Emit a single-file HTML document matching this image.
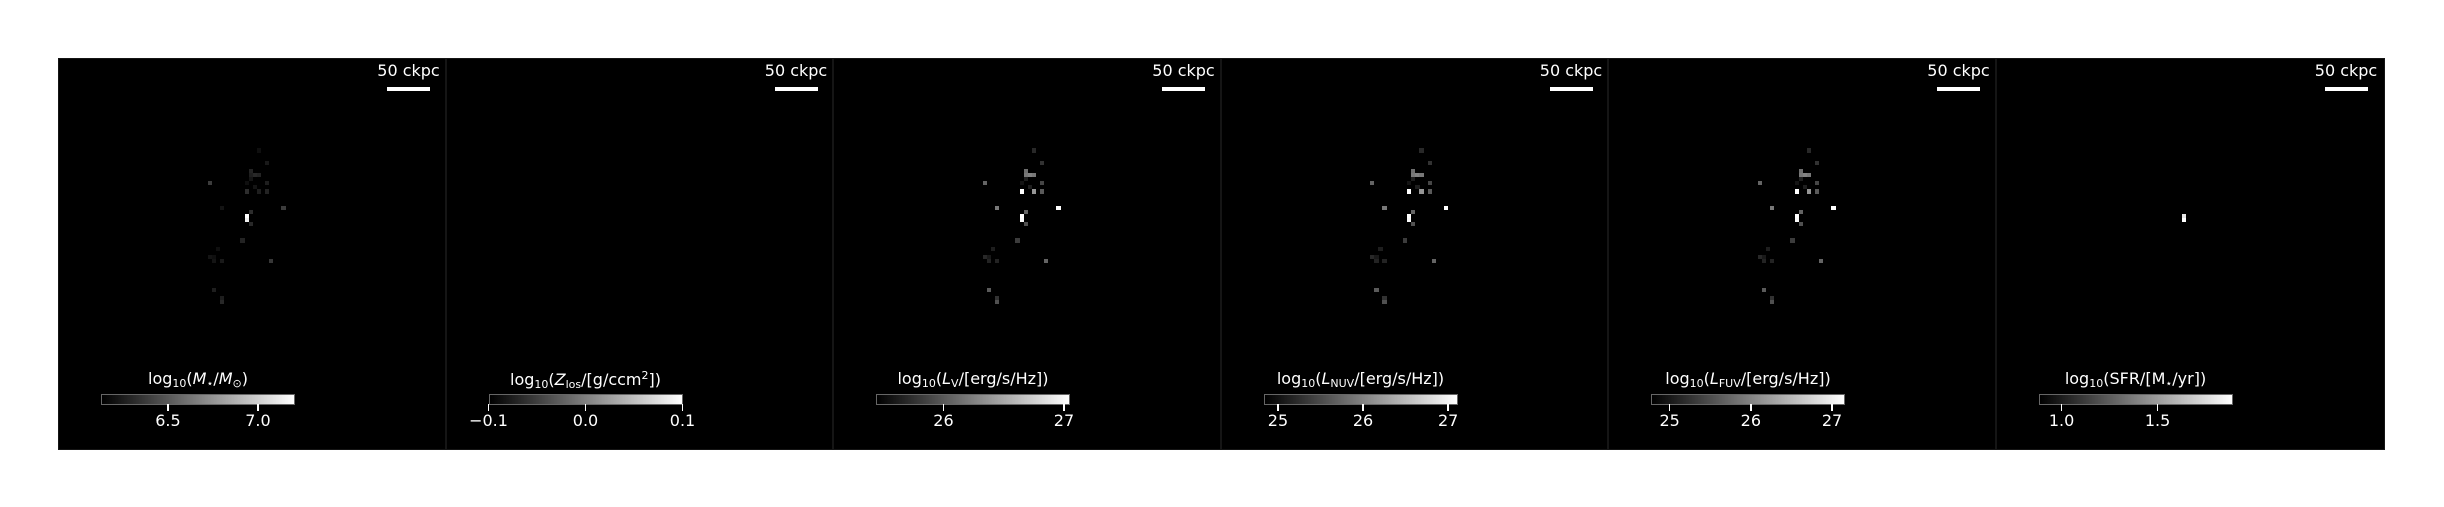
<!DOCTYPE html>
<html><head><meta charset="utf-8">
<style>
html,body{margin:0;padding:0;background:#fff;}
#root{position:relative;width:2444px;height:507px;overflow:hidden;background:#fff;font-family:"DejaVu Sans","Liberation Sans",sans-serif;color:#fff;}
.panel{position:absolute;top:58px;height:392px;background:#000;box-sizing:border-box;border:1px solid #151515;}
.txt{position:absolute;white-space:nowrap;transform:translate(-50%,-50%);font-size:16px;line-height:1;}
.cbar{position:absolute;height:11px;background:linear-gradient(to right,#000,#fff);box-sizing:border-box;border:1px solid #666;}
.tick{position:absolute;width:1.5px;height:7px;background:#fff;}
.px{position:absolute;}
sub{font-size:11px;vertical-align:-3px;}
sup{font-size:11px;vertical-align:6px;}
</style></head>
<body>
<div id="root"></div>
<script>
// ---- data ----
const panelNames = ["stellar-mass","metallicity","lum-v","lum-nuv","lum-fuv","sfr"];
const cbarTitles = [
 'log<sub>10</sub>(<i>M</i><sub>⋆</sub>/<i>M</i><sub>⊙</sub>)',
 'log<sub>10</sub>(<i>Z</i><sub>los</sub>/[g/ccm<sup>2</sup>])',
 'log<sub>10</sub>(<i>L</i><sub>V</sub>/[erg/s/Hz])',
 'log<sub>10</sub>(<i>L</i><sub>NUV</sub>/[erg/s/Hz])',
 'log<sub>10</sub>(<i>L</i><sub>FUV</sub>/[erg/s/Hz])',
 'log<sub>10</sub>(SFR/[M<sub>⋆</sub>/yr])'
];
const cbarMin = [6.128, -0.1, 25.44, 24.83, 24.77, 0.88];
const cbarMax = [7.206, 0.1, 27.05, 27.11, 27.16, 1.89];
const tickValues = [[6.5,7.0],[-0.1,0.0,0.1],[26,27],[25,26,27],[25,26,27],[1.0,1.5]];
const tickLabels = [["6.5","7.0"],["−0.1","0.0","0.1"],["26","27"],["25","26","27"],["25","26","27"],["1.0","1.5"]];
// map cells: column index, row index (grid of ~4.1px cells)
const cellCols = [48,50,46,46,47,48,46,45,50,36,47,45,48,50,39,54,46,45,45,46,44,38,36,37,37,39,51,37,39,39];
const cellRows = [22,25,27,28,28,28,29,30,30,30,31,32,32,32,36,36,37,38,39,40,44,46,48,48,49,49,49,56,58,59];
// cell brightness (0-255) per panel
const cellVals = [
 [15,25,35,30,40,35,20,15,30,60,20,45,30,35,20,60,45,255,240,40,35,15,20,15,20,25,55,30,30,40],
 [0,0,0,0,0,0,0,0,0,0,0,0,0,0,0,0,0,0,0,0,0,0,0,0,0,0,0,0,0,0],
 [40,50,110,120,130,120,30,20,70,100,30,255,150,90,120,255,100,255,250,80,60,30,40,25,35,35,100,90,50,80],
 [40,50,110,120,130,120,30,20,70,100,30,255,150,90,120,255,100,255,250,80,60,30,40,25,35,35,100,90,50,80],
 [40,50,110,120,130,120,30,20,70,100,30,255,150,90,120,255,100,255,250,80,60,30,40,25,35,35,100,90,50,80],
 [0,0,0,0,0,0,0,0,0,0,0,0,0,0,0,0,0,230,255,0,0,0,0,0,0,0,0,0,0,0]
];
// ---- layout ----
const root = document.getElementById('root');
const P0 = 58, PW = 387.5, CELL = 4.1, GX = 2, GY = 0;
const CB_OFF = 43, CB_W = 194, CB_Y = 394;
function xScale(i, v){ return P0 + i*PW + CB_OFF + (v - cbarMin[i])/(cbarMax[i]-cbarMin[i])*CB_W; }

for (let i=0;i<6;i++){
  const left = P0 + i*PW;
  const p = document.createElement('div');
  p.className='panel';
  
  
  p.style.left = left+'px'; p.style.width = (PW+ (i==5?2:0))+'px';
  root.appendChild(p);

  for (let k=0;k<cellCols.length;k++){
    const v = cellVals[i][k];
    if (v<=0) continue;
    const c = document.createElement('div');
    c.className='px';
    
    
    c.style.left = (left + GX + cellCols[k]*CELL)+'px';
    c.style.top = (P0 + GY + cellRows[k]*CELL)+'px';
    c.style.width = (CELL+0.3)+'px'; c.style.height=(CELL+0.3)+'px';
    c.style.background = `rgb(${v},${v},${v})`;
    root.appendChild(c);
  }

  const sbt = document.createElement('div');
  sbt.className='txt';
  
  
  sbt.style.left=(left+350.5)+'px'; sbt.style.top='71px';
  sbt.textContent='50 ckpc';
  root.appendChild(sbt);
  const sb = document.createElement('div');
  
  
  sb.style.cssText=`position:absolute;left:${left+329}px;top:87px;width:43px;height:4px;background:#fff;`;
  root.appendChild(sb);

  const cb = document.createElement('div');
  cb.className='cbar';
  
  
  cb.style.left=(left+CB_OFF)+'px'; cb.style.top=CB_Y+'px'; cb.style.width=CB_W+'px';
  root.appendChild(cb);
  const ct = document.createElement('div');
  ct.className='txt';
  
  
  ct.style.left=(left+CB_OFF+CB_W/2)+'px'; ct.style.top='380px';
  ct.innerHTML = cbarTitles[i];
  root.appendChild(ct);
  for (let t=0;t<tickValues[i].length;t++){
    const x = xScale(i, tickValues[i][t]);
    const tk = document.createElement('div');
    tk.className='tick';
    
    
    tk.style.left=(x-0.75)+'px'; tk.style.top=(CB_Y+10)+'px';
    root.appendChild(tk);
    const tl = document.createElement('div');
    tl.className='txt';
    
    
    tl.style.left=x+'px'; tl.style.top='421px';
    tl.textContent = tickLabels[i][t];
    root.appendChild(tl);
  }
}
</script>
</body></html>
